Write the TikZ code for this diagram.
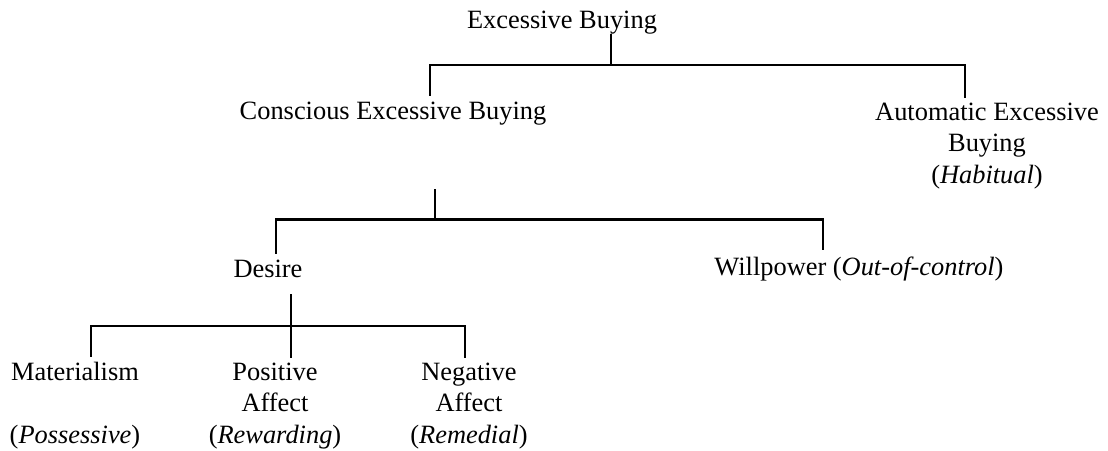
\documentclass[tikz,border=0pt]{standalone}
\usepackage{fontspec}
\setmainfont{Liberation Serif}
\begin{document}
\begin{tikzpicture}[x=0.4545pt,y=-0.4545pt,
  lbl/.style={inner sep=0pt,outer sep=2.7pt,align=center,anchor=base,
    font=\fontsize{12}{14.1}\selectfont},
  link/.style={line width=1pt}]
  \useasboundingbox (0,0) rectangle (1108,450);

  \node[lbl,outer sep=0pt] (root) at (562,28) {Excessive Buying};
  \node[lbl] (conscious) at (393,119) {Conscious Excessive Buying};
  \node[lbl] (automatic) at (987,183) {Automatic Excessive\\Buying\\(\textit{Habitual})};
  \node[lbl] (desire) at (268,277) {Desire};
  \node[lbl] (will) at (859,275) {Willpower (\textit{Out-of-control})};
  \node[lbl] (mat) at (75,443) {Materialism\\~\\(\textit{Possessive})};
  \node[lbl] (positive) at (275,443) {Positive\\Affect\\(\textit{Rewarding})};
  \node[lbl] (negative) at (469,443) {Negative\\Affect\\(\textit{Remedial})};

  \coordinate (j1) at (611,65);
  \coordinate (d1a) at (430,65);
  \coordinate (d1b) at (965,65);
  \draw[link] (root.south -| j1) -- (j1);
  \draw[link] (conscious.north -| d1a) -- (d1a) -- (d1b) -- (automatic.north -| d1b);

  \coordinate (s2) at (435,189);
  \coordinate (j2) at (435,219.5);
  \coordinate (d2a) at (276,219.5);
  \coordinate (d2b) at (823,219.5);
  \draw[link] (s2) -- (j2);
  \draw[link] (desire.north -| d2a) -- (d2a) -- (d2b) -- (will.north -| d2b);

  \coordinate (s3) at (291,294);
  \coordinate (d3a) at (91,326);
  \coordinate (d3c) at (465,326);
  \draw[link] (s3) -- (positive.north -| s3);
  \draw[link] (mat.north -| d3a) -- (d3a) -- (d3c) -- (negative.north -| d3c);
\end{tikzpicture}
\end{document}
